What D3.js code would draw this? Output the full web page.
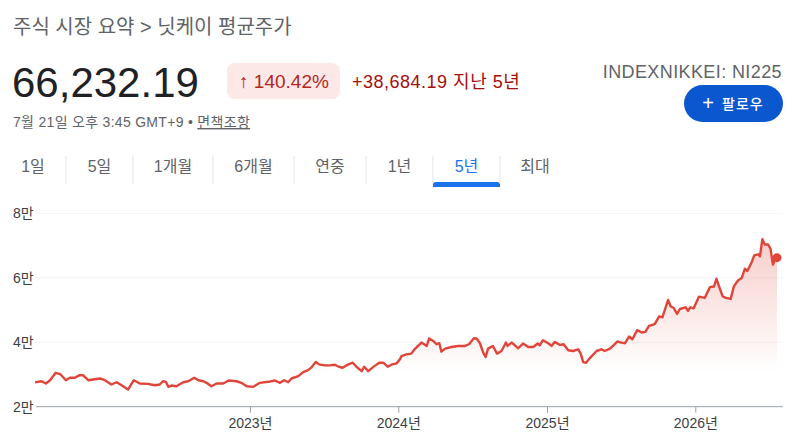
<!DOCTYPE html>
<html>
<head>
<meta charset="utf-8">
<script src="https://cdn.jsdelivr.net/npm/d3@7"></script>
<style>
 body { margin: 0; background: #fff; }
 svg { display: block; font-family: Arial, "Liberation Sans", "Noto Sans CJK KR", sans-serif; }
</style>
</head>
<body>
<svg id="chart" width="800" height="445"></svg>
<script>
// 5y closes
const dates = [
 "2021-07-21","2021-08-06","2021-08-17","2021-08-27","2021-09-10","2021-09-22","2021-10-05","2021-10-15","2021-10-27","2021-11-08","2021-11-16","2021-11-29","2021-12-11","2021-12-28",
 "2022-01-09","2022-01-25","2022-02-07","2022-02-19","2022-03-07","2022-03-21","2022-04-05","2022-04-25","2022-05-12","2022-05-24","2022-06-01","2022-06-08","2022-06-14","2022-06-22","2022-07-04","2022-07-21","2022-08-02","2022-08-17","2022-08-27","2022-09-08","2022-09-16","2022-09-28","2022-10-11","2022-10-27","2022-11-10","2022-11-29","2022-12-11","2022-12-24",
 "2023-01-09","2023-01-25","2023-02-15","2023-03-03","2023-03-16","2023-03-26","2023-04-05","2023-04-13","2023-04-30","2023-05-12","2023-05-24","2023-06-02","2023-06-12","2023-06-20","2023-07-04","2023-07-17","2023-07-29","2023-08-08","2023-08-17","2023-08-31","2023-09-11","2023-09-20","2023-10-03","2023-10-09","2023-10-19","2023-10-31","2023-11-15","2023-11-25","2023-12-06","2023-12-15","2023-12-28",
 "2024-01-05","2024-01-09","2024-01-21","2024-02-02","2024-02-10","2024-02-27","2024-03-11","2024-03-17","2024-03-27","2024-04-04","2024-04-11","2024-04-16","2024-04-25","2024-05-11","2024-05-27","2024-06-13","2024-06-23","2024-07-05","2024-07-12","2024-07-20","2024-07-28","2024-08-03","2024-08-09","2024-08-21","2024-08-31","2024-09-11","2024-09-22","2024-09-26","2024-10-06","2024-10-14","2024-10-22","2024-11-03","2024-11-16","2024-11-28","2024-12-09","2024-12-14","2024-12-22",
 "2025-01-04","2025-01-12","2025-01-20","2025-02-02","2025-02-11","2025-02-22","2025-03-06","2025-03-19","2025-03-25","2025-03-31","2025-04-07","2025-04-16","2025-05-03","2025-05-15","2025-05-23","2025-06-05","2025-06-23","2025-07-03","2025-07-12","2025-07-22","2025-07-30","2025-08-11","2025-08-22","2025-08-31","2025-09-09","2025-09-23","2025-10-04","2025-10-12","2025-10-26","2025-11-01","2025-11-09","2025-11-17","2025-11-24","2025-12-08","2025-12-14","2025-12-20","2025-12-28",
 "2026-01-10","2026-01-24","2026-02-06","2026-02-16","2026-02-22","2026-03-01","2026-03-09","2026-03-17","2026-03-29","2026-04-06","2026-04-16","2026-04-25","2026-05-03","2026-05-09","2026-05-20","2026-05-26","2026-06-05","2026-06-09","2026-06-15","2026-06-21","2026-06-29","2026-07-05","2026-07-11","2026-07-17","2026-07-21"
];
const closes = [
 27548,27900,27190,28220,30530,30000,28220,28970,28970,29780,29780,28220,28440,28750,
 28220,26880,27590,26660,25310,28220,27190,27090,26660,26880,27900,27720,26160,26560,26350,27590,27900,28970,28220,27900,27400,26350,27190,27190,28130,27900,27400,26350,
 26160,27400,27720,28130,27400,28220,27590,28750,29470,30720,31340,32280,33840,33130,32810,32810,33030,32400,32090,33130,33650,32400,31030,32400,31030,32280,33650,33650,32400,33030,33440,
 34690,35720,36250,36470,37800,39900,38850,41160,40410,39380,39690,37090,38030,38530,38850,38850,39380,41250,41160,39690,36780,35410,38030,38850,36470,37280,39900,38850,39900,39060,38130,39590,38530,38530,39590,39060,40630,
 39690,38850,40100,39160,39380,37500,37280,37810,36470,33840,33650,35000,37280,37810,37280,38030,40220,39900,39690,41780,40940,43750,43030,43220,45090,45630,48030,47720,53130,51160,50630,48750,50310,50840,49780,50840,50530,
 54160,53750,57090,57280,59690,57090,54280,53750,53440,57410,59160,59910,62810,62090,64910,66970,67280,66660,71970,70310,70310,69060,64060,66160,66232.19
];
const yTicks = [20000, 40000, 60000, 80000];
const yTickLabels = ["2만", "4만", "6만", "8만"];
const xTickYears = ["2023", "2024", "2025", "2026"];
const tabs = ["1일", "5일", "1개월", "6개월", "연중", "1년", "5년", "최대"];
const activeTab = "5년";

const svg = d3.select("#chart");
const parse = d3.timeParse("%Y-%m-%d");
const data = dates.map((d, i) => ({date: parse(d), v: closes[i]}));

// ---- header ----
svg.append("text").attr("x", 13).attr("y", 34)
 .attr("font-size", 20).attr("fill", "#5f6368")
 .text("주식 시장 요약 > 닛케이 평균주가");

svg.append("text").attr("x", 12).attr("y", 97)
 .attr("font-size", 42).attr("fill", "#202124")
 .text(d3.format(",.2f")(closes[closes.length - 1]));

svg.append("rect").attr("x", 227).attr("y", 63).attr("width", 113).attr("height", 36)
 .attr("rx", 8).attr("fill", "#fce8e6");
svg.append("text").attr("x", 284).attr("y", 87.5).attr("text-anchor", "middle")
 .attr("font-size", 19).attr("fill", "#b3261e")
 .text("↑ 140.42%");

svg.append("text").attr("x", 352).attr("y", 88)
 .attr("font-size", 18).attr("letter-spacing", 0.5).attr("fill", "#a50e0e")
 .text("+38,684.19 지난 5년");

svg.append("text").attr("x", 782).attr("y", 78).attr("text-anchor", "end")
 .attr("font-size", 18).attr("letter-spacing", 0.4).attr("fill", "#5f6368")
 .text("INDEXNIKKEI: NI225");

// follow button
svg.append("rect").attr("x", 684).attr("y", 85).attr("width", 99).attr("height", 37)
 .attr("rx", 18.5).attr("fill", "#0b57d0");
svg.append("text").attr("x", 708).attr("y", 110).attr("text-anchor", "middle")
 .attr("font-size", 20).attr("fill", "#fff").text("+");
svg.append("text").attr("x", 722).attr("y", 109)
 .attr("font-size", 14).attr("letter-spacing", 1).attr("font-weight", 500).attr("fill", "#fff")
 .text("팔로우");

const stamp = svg.append("text").attr("x", 13).attr("y", 127)
 .attr("font-size", 14).attr("letter-spacing", 0.3).attr("fill", "#5f6368");
stamp.append("tspan").text("7월 21일 오후 3:45 GMT+9 • ");
stamp.append("tspan").attr("text-decoration", "underline").text("면책조항");

// ---- range tabs ----
const tabEdges = [0, 66, 133, 213, 294, 366, 433, 500, 570];
const tabG = svg.append("g");
tabs.forEach((t, i) => {
 const cx = (tabEdges[i] + tabEdges[i + 1]) / 2;
 tabG.append("text").attr("x", cx).attr("y", 172).attr("text-anchor", "middle")
  .attr("font-size", 16).attr("fill", t === activeTab ? "#1a73e8" : "#5f6368")
  .text(t);
 if (i > 0) {
  tabG.append("line").attr("x1", tabEdges[i]).attr("x2", tabEdges[i])
   .attr("y1", 156).attr("y2", 184).attr("stroke", "#e3e3e3");
 }
 if (t === activeTab) {
  tabG.append("path")
   .attr("d", `M${tabEdges[i]},187 v-2 a3,3 0 0 1 3,-3 h${tabEdges[i + 1] - tabEdges[i] - 6} a3,3 0 0 1 3,3 v2 z`)
   .attr("fill", "#1a73e8");
 }
});

// ---- chart ----
const x = d3.scaleTime().domain([parse("2021-07-21"), parse("2026-07-21")]).range([35, 777]);
const y = d3.scaleLinear().domain([20000, 80000]).range([406.7, 213.3]);

// grid
svg.append("g").selectAll("line").data(yTicks.slice(1)).join("line")
 .attr("x1", 35).attr("x2", 783)
 .attr("y1", d => y(d)).attr("y2", d => y(d))
 .attr("stroke", "#f1f3f4");

svg.append("g").selectAll("text").data(yTicks).join("text")
 .attr("x", 13).attr("y", d => y(d) + 5)
 .attr("font-size", 14).attr("fill", "#3c4043")
 .text((d, i) => yTickLabels[i]);

// fill under the line, fades out quickly
const defs = svg.append("defs");
const grad = defs.append("linearGradient").attr("id", "fillGrad")
 .attr("gradientUnits", "userSpaceOnUse")
 .attr("x1", 0).attr("x2", 0).attr("y1", 230).attr("y2", 372);
grad.append("stop").attr("offset", 0).attr("stop-color", "#e0453a").attr("stop-opacity", 0.28);
grad.append("stop").attr("offset", 1).attr("stop-color", "#e0453a").attr("stop-opacity", 0);

svg.append("path").datum(data)
 .attr("fill", "url(#fillGrad)")
 .attr("d", d3.area().x(d => x(d.date)).y0(y(20000)).y1(d => y(d.v)));

// baseline + year ticks
svg.append("line").attr("x1", 36).attr("x2", 783)
 .attr("y1", y(20000)).attr("y2", y(20000)).attr("stroke", "#9aa0a6");

const xAxis = d3.axisBottom(x)
 .tickValues(xTickYears.map(yr => parse(yr + "-01-01")))
 .tickFormat(d => d3.timeFormat("%Y")(d) + "년")
 .tickSize(6).tickPadding(5);
const xg = svg.append("g").attr("transform", `translate(0,${y(20000)})`).call(xAxis);
xg.select(".domain").remove();
xg.selectAll(".tick line").attr("stroke", "#9aa0a6");
xg.selectAll(".tick text").attr("font-size", 14).attr("fill", "#3c4043")
 .attr("font-family", "Arial, 'Liberation Sans', 'Noto Sans CJK KR', sans-serif");

// price line
svg.append("path").datum(data)
 .attr("fill", "none").attr("stroke", "#e0453a").attr("stroke-width", 2.4)
 .attr("stroke-linejoin", "round")
 .attr("d", d3.line().x(d => x(d.date)).y(d => y(d.v)));

const last = data[data.length - 1];
svg.append("circle").attr("cx", x(last.date)).attr("cy", y(last.v)).attr("r", 4.5)
 .attr("fill", "#e0453a");
</script>
</body>
</html>
